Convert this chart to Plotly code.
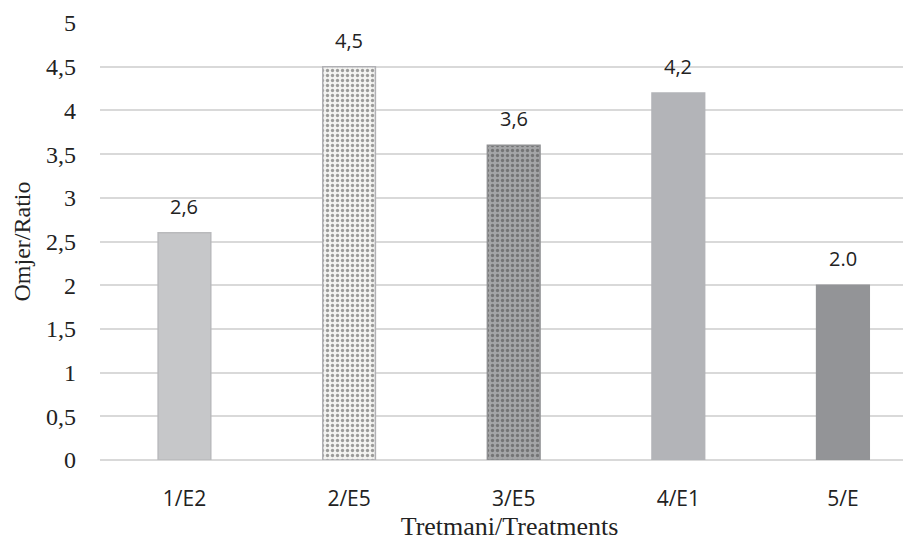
import plotly.graph_objects as go

categories = ["1/E2", "2/E5", "3/E5", "4/E1", "5/E"]
values = [2.6, 4.5, 3.6, 4.2, 2.0]
value_labels = ["2,6", "4,5", "3,6", "4,2", "2.0"]
y_ticks = [0, 0.5, 1, 1.5, 2, 2.5, 3, 3.5, 4, 4.5, 5]
y_tick_labels = ["0", "0,5", "1", "1,5", "2", "2,5", "3", "3,5", "4", "4,5", "5"]

bar_colors = ["#c6c7c9", "#f3f3f1", "#a4a5a7", "#b3b4b8", "#939497"]
line_colors = ["#b9babc", "#b0b0b4", "#8f9092", "#b3b4b8", "#939497"]
pattern_shapes = ["", ".", ".", "", ""]
pattern_fg = ["#c6c7c9", "#d4d4d2", "#4a4a4c", "#b3b4b8", "#939497"]

SANS = "Open Sans, Lato, sans-serif"
SERIF = "Liberation Serif, Times New Roman, serif"

fig = go.Figure()
fig.add_trace(go.Bar(
    x=list(range(len(categories))),
    y=values,
    width=0.32,
    marker=dict(
        color=bar_colors,
        line=dict(color=line_colors, width=1.5),
        pattern=dict(shape=pattern_shapes, fgcolor=pattern_fg, size=5, solidity=0.35,
                     fillmode="overlay"),
    ),
    hoverinfo="skip",
))

for i, (v, t) in enumerate(zip(values, value_labels)):
    fig.add_annotation(x=i, y=v, text=t, showarrow=False, yanchor="bottom", yshift=11,
                       font=dict(family=SANS, size=20, color="#222222"))

fig.update_layout(
    width=911, height=548,
    margin=dict(l=92, r=0, t=15, b=96),
    paper_bgcolor="white", plot_bgcolor="white",
    showlegend=False,
    xaxis=dict(
        range=[-0.513, 4.462],
        tickvals=list(range(len(categories))),
        ticktext=categories,
        tickfont=dict(family=SANS, size=21, color="#222222"),
        showgrid=False, zeroline=False, showline=False,
        ticks="outside", ticklen=20, tickcolor="rgba(0,0,0,0)",
        title=dict(text="Tretmani/Treatments", standoff=2,
                   font=dict(family=SERIF, size=26, color="#222222")),
    ),
    yaxis=dict(
        range=[0, 5],
        tickvals=y_ticks,
        ticktext=y_tick_labels,
        tickfont=dict(family=SERIF, size=24, color="#222222"),
        showgrid=True, gridcolor="#d9d9d9", gridwidth=1.5,
        zeroline=True, zerolinecolor="#d9d9d9", zerolinewidth=1.5,
        showline=False,
        ticklabelstandoff=23,
        title=dict(text="Omjer/Ratio", standoff=8,
                   font=dict(family=SERIF, size=24, color="#222222")),
    ),
)

fig.write_html("out.html")
